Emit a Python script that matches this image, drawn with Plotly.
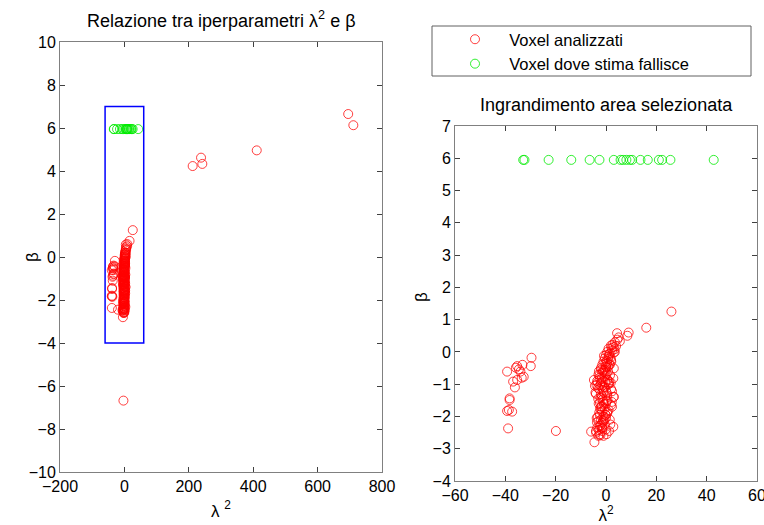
import plotly.graph_objects as go

# Hyperparameter estimates per voxel: lambda^2 (x) and beta (y)
lam2_ok = [
    # far outliers
    212, 238, 242, 411, 695, 711, -3,
    # left-hand small group
    -29.6, -29.9, -33.2, -35.3, -35.8, -34.6, -34.0, -39.3, -32.7, -33.5,
    -35.3, -36.9, -36.2, -38.3, -38.3, -38.6, -39.3, -37.3, -38.9, -19.9,
    # main band, upper part
    26.0, 16.0, 9.0, 8.5, 4.4, 5.0, 4.5, 5.5, 3.5, 2.0, 3.0, 4.0, 1.0,
    2.5, 0.5, 1.5, 3.5, 0.0, -0.5, 1.0, 2.0, -1.0, 0.5, -1.5, 0.0, 1.5,
    2.2, 3.1, 1.2, -0.8, 0.3, 2.6, 1.8, 0.9, -0.2, 3.4, 2.1, 1.4,
    # main band, middle part
    -2.0, -0.5, 0.8, -1.5, -3.0, -2.5, -0.5, 0.5, -1.0, -2.0, -3.5, 1.0,
    -1.5, -0.5, 0.0, 2.0, -1.0, -2.0, 0.5, -4.0, 3.0, 3.1, 2.9, -4.8,
    -4.2, -2.8, -1.2, 0.2, 1.6, -0.3, -2.3, -1.8, -0.7, 1.1, -3.2, 2.4,
    -1.1, 0.4, -2.6, -0.9, 1.3, -1.6, 0.7, -3.8, -2.2, 0.1,
    -3.4, -2.7, -1.9, -0.4, 0.9, 1.9, -4.4, -3.1, -1.3, 0.6, 2.3,
    # main band, lower part
    -1.0, 0.0, 2.0, -2.0, -0.5, 1.0, -1.5, 0.5, -2.5, -1.0, 0.0, -2.0,
    1.5, -3.0, -1.5, -0.5, -2.5, -3.5, 0.0, -1.5, -4.0, -2.5, -3.0, -1.0,
    -4.6, -2.2, -5.9, 3.1, 2.4, 2.9, -0.8, -1.9, -2.7, -3.3, -1.2, -0.2,
    0.6, -2.1, -3.6, -1.4, -0.6, -2.9, -1.7, 0.3, -3.9, -2.4,
    -2.4, -0.1, 1.7, -3.7, -1.6, 0.2, -2.9, -0.9, 1.2,
]
beta_ok = [
    4.23, 4.62, 4.33, 4.96, 6.65, 6.13, -6.68,
    -0.18, -0.44, -0.40, -0.44, -0.49, -0.54, -0.61, -0.61, -0.77, -0.80,
    -0.87, -0.92, -1.10, -1.44, -1.49, -1.80, -1.83, -1.85, -2.37, -2.45,
    1.25, 0.75, 0.60, 0.50, 0.58, 0.45, 0.38, 0.33, 0.30, 0.20, 0.15, 0.18, 0.10,
    0.05, 0.00, -0.05, 0.00, -0.10, -0.20, -0.15, -0.25, -0.30, -0.35, -0.40, -0.45, -0.40,
    0.12, -0.02, -0.08, -0.12, -0.28, 0.22, -0.18, -0.22, -0.33, 0.08, -0.30, -0.38,
    -0.50, -0.55, -0.60, -0.65, -0.70, -0.80, -0.75, -0.85, -0.90, -0.95, -0.90, -1.00,
    -1.05, -1.10, -1.20, -1.15, -1.25, -1.30, -1.35, -1.30, -1.40, -0.51, -0.82, -0.87,
    -1.26, -0.60, -0.58, -0.68, -0.72, -0.95, -1.02, -0.83, -1.08, -0.98, -1.12, -1.22,
    -1.18, -1.28, -0.72, -0.62, -0.93, -1.38, -0.88, -1.02, -1.42, -0.48,
    -0.95, -1.15, -0.55, -0.65, -0.45, -0.95, -1.05, -1.45, -1.48, -1.50, -1.55,
    -1.55, -1.60, -1.65, -1.70, -1.75, -1.80, -1.85, -1.90, -1.95, -2.00, -2.05, -2.10,
    -2.10, -2.15, -2.20, -2.25, -2.30, -2.35, -2.40, -2.45, -2.45, -2.55, -2.60, -2.60,
    -2.80, -2.58, -2.47, -1.39, -1.70, -2.32, -1.62, -1.78, -1.88, -2.02, -2.12, -1.95,
    -1.85, -2.28, -2.18, -2.38, -2.08, -2.42, -1.68, -1.52, -2.50, -1.58,
    -1.75, -1.95, -2.25, -2.05, -2.35, -2.55, -1.60, -2.15, -2.45,
]

# Voxels where the estimate fails
lam2_fail = [-32.9, -32.4, -22.8, -13.8, -6.5, -2.6, 3.1, 5.8, 6.8, 8.1,
             9.5, 10.4, 13.7, 16.6, 21.0, 22.3, 25.6, 42.8]
beta_fail = [5.95] * len(lam2_fail)

# Selected region shown enlarged on the right
zoom_x = [-60, 60]
zoom_y = [-4, 7]

FONT = "Liberation Sans, Arial, sans-serif"
RED = "rgba(255,0,0,0.75)"
GREEN = "rgba(0,235,0,0.8)"
PAD = "\u00a0\u00a0"  # extra gap between legend symbol and label

fig = go.Figure()

for axis_id, show in (("", True), ("2", False)):
    fig.add_trace(go.Scatter(
        x=lam2_ok, y=beta_ok, mode="markers", name=PAD + "Voxel analizzati",
        xaxis="x" + axis_id, yaxis="y" + axis_id, showlegend=show,
        cliponaxis=True,
        marker=dict(symbol="circle-open", size=9, color=RED, line=dict(width=1)),
    ))
    fig.add_trace(go.Scatter(
        x=lam2_fail, y=beta_fail, mode="markers",
        name=PAD + "Voxel dove stima fallisce",
        xaxis="x" + axis_id, yaxis="y" + axis_id, showlegend=show,
        cliponaxis=True,
        marker=dict(symbol="circle-open", size=9, color=GREEN, line=dict(width=1)),
    ))

axis_style = dict(
    showline=True, mirror="ticks", linecolor="#808080", linewidth=1,
    ticks="inside", ticklen=5, tickcolor="#404040", showgrid=False,
    zeroline=False, automargin=False, ticklabeloverflow="allow",
    tickfont=dict(family=FONT, size=16, color="black"),
    title_font=dict(family=FONT, size=17, color="black"),
)

fig.update_layout(
    width=764, height=525,
    margin=dict(l=0, r=0, t=0, b=0, autoexpand=False),
    paper_bgcolor="white", plot_bgcolor="white",
    font=dict(family=FONT, size=16, color="black"),
    xaxis=dict(domain=[60 / 764, 382 / 764], range=[-200, 800], dtick=200,
               title=dict(text="λ <sup>2</sup>", standoff=10), **axis_style),
    yaxis=dict(domain=[1 - 472 / 525, 1 - 42 / 525], range=[-10, 10], dtick=2,
               **axis_style),
    xaxis2=dict(domain=[455 / 764, 757 / 764], range=[-60, 60], dtick=20,
                anchor="y2", title=dict(text="λ<sup>2</sup>", standoff=4), **axis_style),
    yaxis2=dict(domain=[1 - 481 / 525, 1 - 126 / 525], range=[-4, 7], dtick=1,
                anchor="x2", **axis_style),
    legend=dict(x=450 / 764, y=1 - 22 / 525, xanchor="left", yanchor="top",
                bgcolor="rgba(0,0,0,0)", borderwidth=0,
                font=dict(family=FONT, size=16.5), itemwidth=40),
    showlegend=True,
)

# Rectangle marking the enlarged region
fig.add_shape(type="rect", xref="x", yref="y", x0=zoom_x[0], x1=zoom_x[1],
              y0=zoom_y[0], y1=zoom_y[1], line=dict(color="blue", width=1.5))
# Legend frame
fig.add_shape(type="rect", xref="paper", yref="paper",
              x0=432 / 764, x1=751 / 764, y0=1 - 76 / 525, y1=1 - 26 / 525,
              line=dict(color="#606060", width=1))

# Panel titles
fig.add_annotation(text="Relazione tra iperparametri λ<sup>2</sup> e β",
                   xref="paper", yref="paper", x=221 / 764, y=1 - 19 / 525,
                   xanchor="center", yanchor="middle",
                   showarrow=False, font=dict(family=FONT, size=18))
fig.add_annotation(text="Ingrandimento area selezionata",
                   xref="paper", yref="paper", x=606 / 764, y=1 - 105 / 525,
                   xanchor="center", yanchor="middle",
                   showarrow=False, font=dict(family=FONT, size=18))

# Y-axis labels
for xp, yp in ((32, 257), (421, 297)):
    fig.add_annotation(text="β", xref="paper", yref="paper",
                       x=xp / 764, y=1 - yp / 525, textangle=-90,
                       xanchor="center", yanchor="middle", showarrow=False,
                       font=dict(family=FONT, size=17))

fig.write_html("out.html")
